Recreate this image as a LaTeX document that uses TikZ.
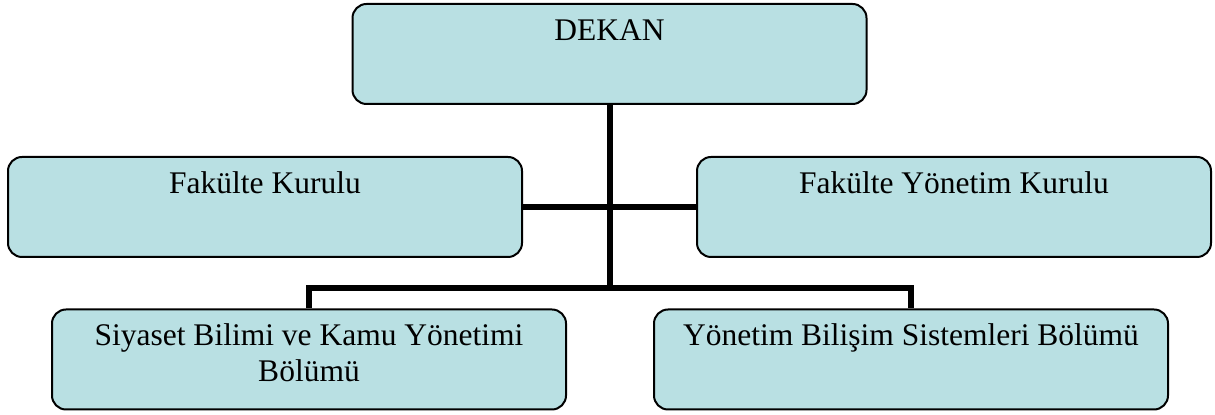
\documentclass[tikz,border=0pt]{standalone}
\usepackage{fontspec}
\setmainfont{Liberation Serif}
\definecolor{boxfill}{RGB}{185,224,227}
\tikzset{
  orgbox/.style={draw=black, line width=1pt, fill=boxfill, rounded corners=7pt, inner sep=0pt},
  conn/.style={line width=3pt, draw=black}
}
\newcommand{\boxtext}[1]{\parbox[t][50pt][t]{257pt}{\fontsize{15.75}{18}\selectfont\centering\rule{0pt}{18.25pt}#1\par}}
\begin{document}
\begin{tikzpicture}[x=0.5pt,y=-0.5pt]
\useasboundingbox (0,0) rectangle (1215,415);
\node[orgbox] (dekan) at (609.5,54) {\boxtext{DEKAN}};
\node[orgbox] (fk) at (265,207) {\boxtext{Fakülte Kurulu}};
\node[orgbox] (fyk) at (954,207) {\boxtext{Fakülte Yönetim Kurulu}};
\node[orgbox] (siy) at (309,359.5) {\boxtext{Siyaset Bilimi ve Kamu Yönetimi\\Bölümü}};
\node[orgbox] (ybs) at (911,359.5) {\boxtext{Yönetim Bilişim Sistemleri Bölümü}};
\coordinate (bus) at (609.5,288);
\draw[conn] (dekan.south) -- (bus);
\draw[conn] (fk.east) -- (fyk.west);
\draw[conn] (siy.north) |- (bus) -| (ybs.north);
\end{tikzpicture}
\end{document}
